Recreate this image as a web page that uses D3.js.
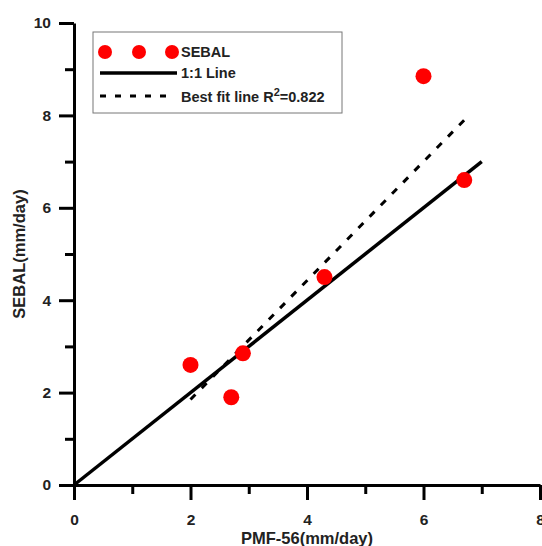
<!DOCTYPE html>
<html>
<head>
<meta charset="utf-8">
<script src="https://cdn.jsdelivr.net/npm/d3@7"></script>
<style>
    body { margin: 0; background: #fff; }
    .axis path, .axis line { stroke: #000; stroke-width: 3px; }
    .axis text { font-family: Arial, "Liberation Sans", sans-serif; font-weight: bold; font-size: 15.5px; fill: #222; }
    .title { font-family: Arial, "Liberation Sans", sans-serif; font-weight: bold; font-size: 16.5px; fill: #222; }
    .legend text { font-family: Arial, "Liberation Sans", sans-serif; font-weight: bold; font-size: 14.5px; fill: #222; }
</style>
</head>
<body>
<svg id="chart"></svg>
<script>
// data
const pmf = [2.0, 2.7, 2.9, 4.3, 6.0, 6.7];
const sebal = [2.6, 1.9, 2.85, 4.5, 8.85, 6.6];
const oneToOneX = [0, 7];
const oneToOneY = [0, 7];
const fitX = [2.0, 6.7];
const fitY = [1.85, 7.9];
const xMajor = [0, 2, 4, 6, 8];
const xMinor = [1, 3, 5, 7];
const yMajor = [0, 2, 4, 6, 8, 10];
const yMinor = [1, 3, 5, 7, 9];
const legendLabels = ['SEBAL', '1:1 Line', 'Best fit line R'];

let config = {
    containerWidth: 542,
    containerHeight: 546,
    margin: { top: 23, bottom: 61, right: 2, left: 74 }
};
let width = config.containerWidth - config.margin.left - config.margin.right;
let height = config.containerHeight - config.margin.top - config.margin.bottom;

let svg = d3.select('#chart')
    .attr('width', config.containerWidth)
    .attr('height', config.containerHeight);
let chart = svg.append('g')
    .attr('transform', `translate(${config.margin.left},${config.margin.top})`);

let xScale = d3.scaleLinear().domain([0, 8]).range([0, width]);
let yScale = d3.scaleLinear().domain([0, 10]).range([height, 0]);

// minor ticks first, then major with labels
chart.append('g')
    .attr('class', 'axis')
    .attr('transform', `translate(0,${height})`)
    .call(d3.axisBottom(xScale).tickValues(xMinor).tickSize(9).tickFormat(''))
    .select('.domain').remove();
chart.append('g')
    .attr('class', 'axis')
    .attr('transform', `translate(0,${height})`)
    .call(d3.axisBottom(xScale).tickValues(xMajor).tickSize(15).tickSizeOuter(0).tickPadding(14).tickFormat(d3.format('d')));

chart.append('g')
    .attr('class', 'axis')
    .call(d3.axisLeft(yScale).tickValues(yMinor).tickSize(9).tickFormat(''))
    .select('.domain').remove();
chart.append('g')
    .attr('class', 'axis')
    .call(d3.axisLeft(yScale).tickValues(yMajor).tickSize(15).tickSizeOuter(0).tickPadding(8).tickFormat(d3.format('d')));

// axis titles
svg.append('text')
    .attr('class', 'title')
    .attr('x', config.margin.left + width / 2)
    .attr('y', 544)
    .attr('text-anchor', 'middle')
    .text('PMF-56(mm/day)');
svg.append('text')
    .attr('class', 'title')
    .attr('transform', `translate(25,${config.margin.top + height / 2}) rotate(-90)`)
    .attr('text-anchor', 'middle')
    .text('SEBAL(mm/day)');

// lines
let line = d3.line().x(d => xScale(d[0])).y(d => yScale(d[1]));
chart.append('path')
    .datum(oneToOneX.map((x, i) => [x, oneToOneY[i]]))
    .attr('d', line)
    .attr('fill', 'none')
    .attr('stroke', '#000')
    .attr('stroke-width', 3.5);
chart.append('path')
    .datum(fitX.map((x, i) => [x, fitY[i]]))
    .attr('d', line)
    .attr('fill', 'none')
    .attr('stroke', '#000')
    .attr('stroke-width', 3)
    .attr('stroke-dasharray', '7,9');

// points
chart.selectAll('.dot')
    .data(pmf.map((x, i) => ({ x: x, y: sebal[i] })))
    .enter()
    .append('circle')
    .attr('class', 'dot')
    .attr('cx', d => xScale(d.x))
    .attr('cy', d => yScale(d.y))
    .attr('r', 8)
    .attr('fill', '#ff0000');

// legend
let legend = svg.append('g').attr('class', 'legend');
legend.append('rect')
    .attr('x', 93).attr('y', 32)
    .attr('width', 249).attr('height', 81)
    .attr('fill', '#fff')
    .attr('stroke', '#777')
    .attr('stroke-width', 1);
[105, 139, 172].forEach(cx => {
    legend.append('circle').attr('cx', cx).attr('cy', 52).attr('r', 7).attr('fill', '#ff0000');
});
legend.append('line')
    .attr('x1', 100).attr('x2', 177).attr('y1', 73).attr('y2', 73)
    .attr('stroke', '#000').attr('stroke-width', 3.5);
legend.append('line')
    .attr('x1', 100).attr('x2', 170).attr('y1', 96).attr('y2', 96)
    .attr('stroke', '#000').attr('stroke-width', 3)
    .attr('stroke-dasharray', '6,9');
legend.append('text').attr('x', 181).attr('y', 57).text(legendLabels[0]);
legend.append('text').attr('x', 181).attr('y', 78).text(legendLabels[1]);
let fitLabel = legend.append('text').attr('x', 181).attr('y', 102);
fitLabel.append('tspan').text(legendLabels[2]);
fitLabel.append('tspan').attr('dy', -6).attr('font-size', 11).text('2');
fitLabel.append('tspan').attr('dy', 6).text('=0.822');
</script>
</body>
</html>
